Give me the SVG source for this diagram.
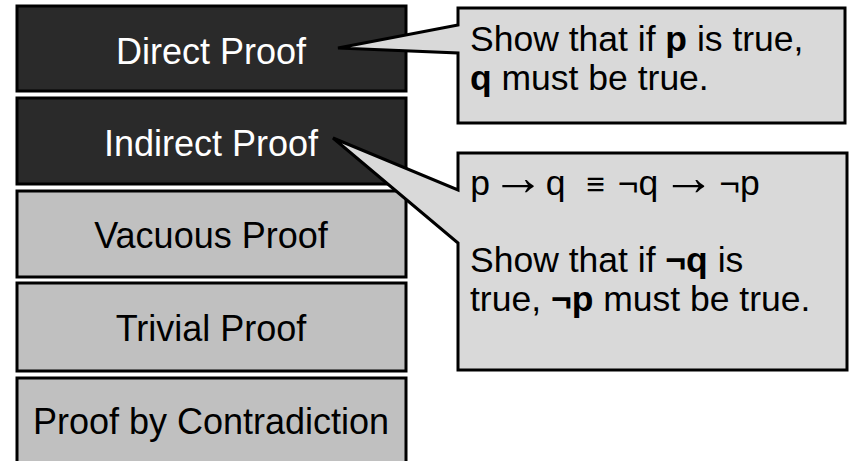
<svg xmlns="http://www.w3.org/2000/svg" width="854" height="461" viewBox="0 0 854 461">
<style>
.box{stroke:#000;stroke-width:3}
.dark{fill:#2a2a2a}
.light{fill:#c0c0c0}
.call{fill:#d9d9d9;stroke:#000;stroke-width:3;stroke-linejoin:miter}
.t{font-family:"Liberation Sans",Arial,sans-serif;font-size:36px;text-anchor:middle}
.w{fill:#fff}
.k{fill:#000}
.c{font-family:"Liberation Sans",Arial,sans-serif;font-size:35.5px;fill:#000}
.b{font-weight:bold}
.arr{font-size:53px}
</style>
<rect width="854" height="461" fill="#fff"/>
<g id="direct"><rect class="box dark" x="17" y="6" width="389" height="85"/><text class="t w" x="211" y="64">Direct Proof</text></g>
<g id="indirect"><rect class="box dark" x="17" y="98" width="389" height="86"/><text class="t w" x="211" y="156">Indirect Proof</text></g>
<g id="vacuous"><rect class="box light" x="17" y="191" width="389" height="86"/><text class="t k" x="211" y="248">Vacuous Proof</text></g>
<g id="trivial"><rect class="box light" x="17" y="283" width="389" height="88"/><text class="t k" x="211" y="341">Trivial Proof</text></g>
<g id="contradiction"><rect class="box light" x="17" y="378" width="389" height="90"/><text class="t k" x="211" y="434">Proof by Contradiction</text></g>
<g id="connectors">
<g id="callout-direct"><path class="call" d="M458,8 H845 V123 H458 V53 L338,48 L458,25 Z"/>
<text class="c" x="470" y="51">Show that if <tspan class="b">p</tspan> is true,</text>
<text class="c" x="470" y="90"><tspan class="b">q</tspan> must be true.</text></g>
<g id="callout-indirect"><path class="call" d="M458,153 H847 V370 H458 V243 L333,138 L458,190 Z"/>
<text class="c" y="195" text-anchor="middle"><tspan x="480">p</tspan><tspan class="arr" x="518">→</tspan><tspan x="555.5">q</tspan><tspan x="595.5" font-size="32">≡</tspan><tspan x="638">¬q</tspan><tspan class="arr" x="688.5">→</tspan><tspan x="739.5">¬p</tspan></text>
<text class="c" x="470" y="272">Show that if <tspan class="b">¬q</tspan> is</text>
<text class="c" x="470" y="311">true, <tspan class="b">¬p</tspan> must be true.</text></g>
</g>
</svg>
